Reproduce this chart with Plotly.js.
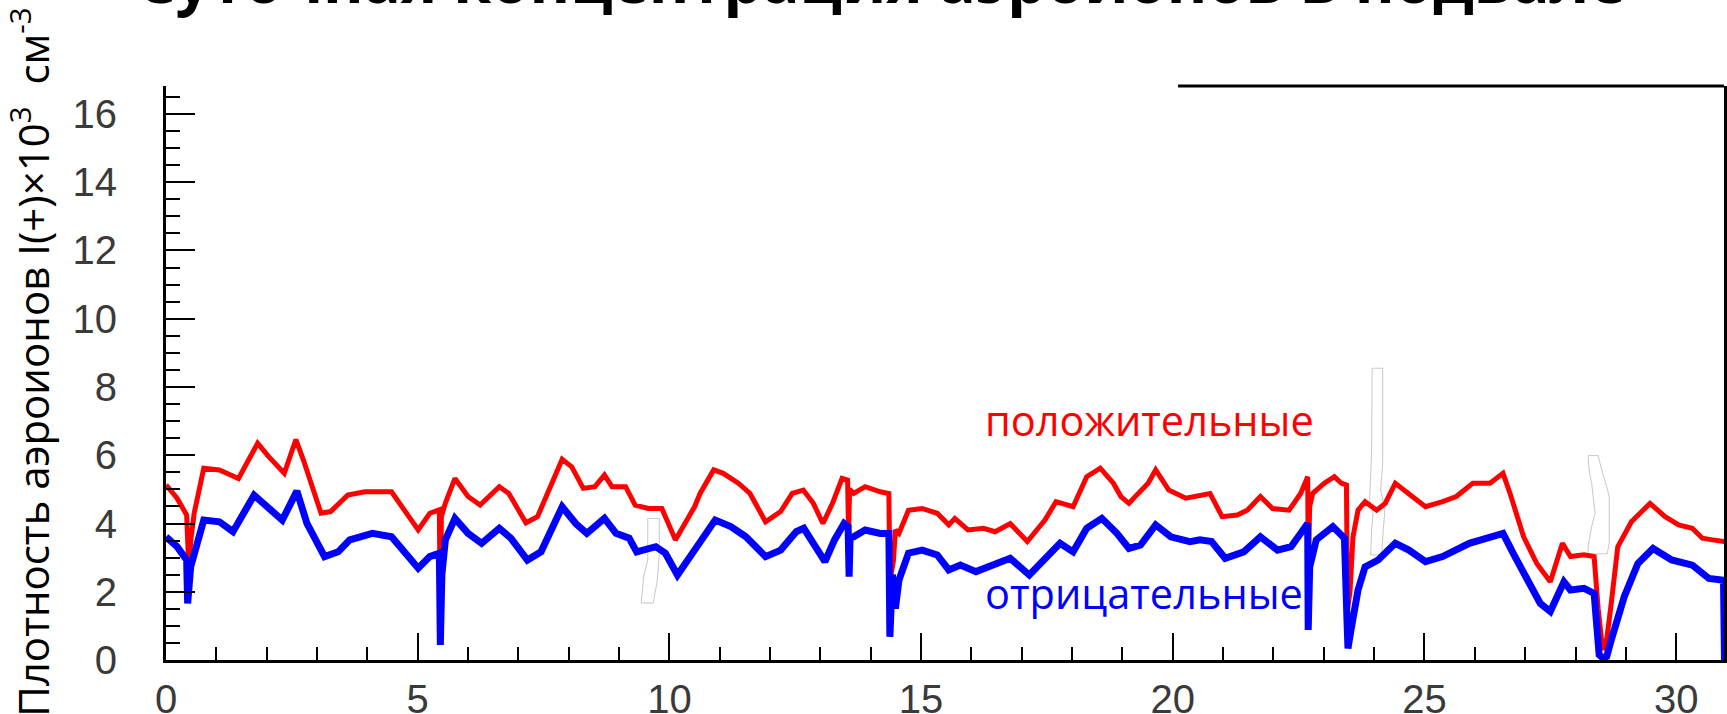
<!DOCTYPE html>
<html>
<head>
<meta charset="utf-8">
<script src="https://cdn.plot.ly/plotly-3.0.1.min.js"></script>
<style>
  html, body { margin: 0; padding: 0; background: #ffffff; overflow: hidden; }
  #chart { width: 1727px; height: 714px; }
</style>
</head>
<body>
<div id="chart"></div>
<script>
// ---------------- data ----------------
const chartTitle = 'Суточная концентрация аэроионов в подвале';
const yAxisTitle = '&nbsp;&nbsp;Плотность аэроионов I(+)×10<sup>3</sup>  см<sup>-3</sup>';
const seriesNames = ['положительные', 'отрицательные'];

// time, hours
const posX = [0, 0.22, 0.41, 0.45, 0.5, 0.56, 0.75, 1.06, 1.44, 1.82, 2.04, 2.31, 2.35, 2.58, 2.73, 3.08, 3.27, 3.61, 3.95, 4.48,
  5.01, 5.24, 5.43, 5.45, 5.47, 5.55, 5.74, 6.0, 6.24, 6.62, 6.81, 7.15, 7.38, 7.87, 8.06, 8.29, 8.52, 8.71, 8.86, 9.13,
  9.32, 9.58, 9.85, 10.12, 10.5, 10.61, 10.88, 11.07, 11.37, 11.6, 11.91, 12.21, 12.44, 12.66, 12.86, 13.05, 13.24, 13.43, 13.54, 13.56,
  13.58, 13.66, 13.89, 14.19, 14.36, 14.38, 14.45, 14.49, 14.56, 14.75, 15.02, 15.32, 15.55, 15.67, 15.93, 16.24, 16.47, 16.77, 17.11, 17.46,
  17.68, 18.02, 18.29, 18.56, 18.82, 18.97, 19.13, 19.28, 19.51, 19.66, 19.92, 20.26, 20.54, 20.74, 20.98, 21.28, 21.48, 21.74, 21.98, 22.31,
  22.54, 22.68, 22.69, 22.72, 22.78, 23.01, 23.21, 23.35, 23.45, 23.47, 23.52, 23.58, 23.68, 23.82, 24.05, 24.22, 24.42, 24.69, 25.02, 25.36,
  25.63, 25.96, 26.3, 26.56, 26.7, 26.97, 27.23, 27.5, 27.74, 27.9, 28.17, 28.37, 28.45, 28.54, 28.62, 28.71, 28.84, 29.11, 29.48, 29.78,
  30.05, 30.32, 30.52, 30.72, 30.96];
// positive ions, x10^3 cm^-3
const posY = [5.13, 4.74, 4.25, 2.78, 3.6, 4.3, 5.62, 5.57, 5.32, 6.35, 5.96, 5.57, 5.47, 6.46, 5.86, 4.3, 4.35, 4.83, 4.93, 4.93,
  3.81, 4.3, 4.4, 1.0, 4.2, 4.6, 5.32, 4.79, 4.54, 5.08, 4.88, 4.02, 4.2, 5.88, 5.66, 5.03, 5.08, 5.42, 5.08, 5.08,
  4.54, 4.44, 4.44, 3.52, 4.49, 4.88, 5.57, 5.47, 5.18, 4.88, 4.05, 4.35, 4.88, 4.98, 4.59, 4.0, 4.59, 5.32, 5.27, 3.7,
  5.0, 4.88, 5.08, 4.93, 4.88, 2.3, 2.9, 3.81, 3.71, 4.39, 4.44, 4.3, 3.96, 4.15, 3.81, 3.86, 3.76, 4.0, 3.47, 4.1,
  4.64, 4.49, 5.37, 5.62, 5.18, 4.79, 4.59, 4.83, 5.18, 5.57, 4.98, 4.74, 4.83, 4.88, 4.2, 4.25, 4.39, 4.79, 4.44, 4.39,
  4.88, 5.37, 2.83, 4.5, 4.88, 5.18, 5.37, 5.18, 5.13, 1.46, 2.0, 3.61, 4.39, 4.64, 4.39, 4.59, 5.18, 4.88, 4.49, 4.64,
  4.79, 5.18, 5.18, 5.47, 4.88, 3.61, 2.83, 2.29, 3.42, 3.03, 3.08, 3.03, 1.5, 0.3, 0.6, 1.66, 3.32, 4.05, 4.59, 4.2,
  3.96, 3.86, 3.57, 3.52, 3.47];

const negX = [0, 0.22, 0.41, 0.43, 0.49, 0.75, 1.06, 1.33, 1.75, 2.04, 2.31, 2.6, 2.8, 3.15, 3.42, 3.65, 4.1, 4.48, 5.01, 5.24,
  5.43, 5.45, 5.48, 5.55, 5.74, 6.0, 6.27, 6.62, 6.85, 7.18, 7.45, 7.87, 8.14, 8.36, 8.71, 8.94, 9.2, 9.35, 9.73, 9.92,
  10.16, 10.5, 10.91, 11.22, 11.52, 11.91, 12.21, 12.52, 12.67, 12.86, 13.09, 13.28, 13.47, 13.55, 13.57, 13.59, 13.66, 13.89, 14.19, 14.36,
  14.38, 14.43, 14.49, 14.56, 14.75, 15.02, 15.32, 15.55, 15.78, 16.09, 16.39, 16.77, 17.15, 17.46, 17.76, 18.02, 18.29, 18.59, 18.89, 19.13,
  19.36, 19.66, 19.96, 20.34, 20.54, 20.77, 21.04, 21.41, 21.74, 22.08, 22.35, 22.68, 22.69, 22.72, 22.85, 23.18, 23.41, 23.46, 23.48, 23.54,
  23.68, 23.82, 24.08, 24.42, 24.69, 25.02, 25.36, 25.89, 26.3, 26.56, 26.76, 27.03, 27.3, 27.5, 27.77, 27.9, 28.17, 28.37, 28.47, 28.55,
  28.62, 28.71, 28.97, 29.24, 29.54, 29.91, 30.32, 30.65, 30.94, 30.96];
// negative ions, x10^3 cm^-3
const negY = [3.61, 3.32, 2.93, 1.66, 2.73, 4.1, 4.05, 3.76, 4.83, 4.44, 4.1, 4.95, 4.0, 3.03, 3.17, 3.52, 3.71, 3.61, 2.69, 3.03,
  3.13, 0.44, 2.5, 3.52, 4.15, 3.71, 3.42, 3.86, 3.57, 2.93, 3.17, 4.49, 4.0, 3.71, 4.15, 3.71, 3.57, 3.17, 3.32, 3.13,
  2.49, 3.22, 4.1, 3.91, 3.61, 3.03, 3.22, 3.76, 3.86, 3.42, 2.88, 3.52, 4.0, 3.91, 2.44, 3.6, 3.61, 3.81, 3.71, 3.71,
  0.68, 2.5, 1.51, 2.34, 3.13, 3.22, 3.08, 2.64, 2.78, 2.59, 2.78, 2.98, 2.49, 2.93, 3.42, 3.17, 3.86, 4.15, 3.71, 3.27,
  3.37, 3.96, 3.61, 3.47, 3.52, 3.47, 2.98, 3.17, 3.61, 3.22, 3.32, 4.0, 0.88, 2.73, 3.52, 3.91, 3.57, 1.2, 0.34, 0.88,
  2.05, 2.73, 2.93, 3.42, 3.22, 2.88, 3.03, 3.42, 3.57, 3.71, 3.13, 2.34, 1.66, 1.42, 2.29, 2.05, 2.1, 1.95, 0.15, 0.05,
  0.1, 0.59, 1.86, 2.83, 3.27, 2.93, 2.78, 2.39, 2.34, 0];

// ---------------- chart ----------------
const tickFont = { family: 'Liberation Sans, Arial, sans-serif', size: 40, color: '#3a3a3a' };
const textFamily = 'Open Sans, Noto Sans, sans-serif';

const traces = [
  { x: posX, y: posY, name: seriesNames[0], type: 'scatter', mode: 'lines',
    line: { color: '#ff0000', width: 5 }, hoverinfo: 'skip' },
  { x: negX, y: negY, name: seriesNames[1], type: 'scatter', mode: 'lines',
    line: { color: '#0000ff', width: 7 }, hoverinfo: 'skip' }
];

const W = 1727, H = 714;
const M = { l: 166, r: 3, t: 86, b: 54 };

const layout = {
  width: W, height: H,
  margin: M,
  paper_bgcolor: '#ffffff', plot_bgcolor: '#ffffff',
  showlegend: false,
  title: {
    text: '<b>' + chartTitle + '</b>',
    xref: 'container', x: 881 / W, xanchor: 'center',
    yref: 'container', y: 1 - 3 / H, yanchor: 'bottom',
    pad: { t: 0, b: 0, l: 0, r: 0 },
    font: { family: textFamily, size: 61.5, color: '#000000' }
  },
  xaxis: {
    range: [0, 30.95], showgrid: false, zeroline: false,
    showline: true, linecolor: '#000000', linewidth: 3,
    ticks: 'inside', ticklen: 27, tickwidth: 2, tickcolor: '#000000',
    tickmode: 'linear', tick0: 0, dtick: 5,
    minor: { ticks: 'inside', dtick: 1, ticklen: 13, tickwidth: 2, tickcolor: '#000000' },
    tickfont: tickFont, ticklabelstandoff: 2, fixedrange: true
  },
  yaxis: {
    range: [0, 16.82], showgrid: false, zeroline: false,
    showline: true, linecolor: '#000000', linewidth: 3, mirror: true,
    ticks: 'inside', ticklen: 29, tickwidth: 2, tickcolor: '#000000',
    tickmode: 'linear', tick0: 0, dtick: 2,
    minor: { ticks: 'inside', dtick: 0.5, ticklen: 14, tickwidth: 2, tickcolor: '#000000' },
    tickfont: tickFont, ticklabelstandoff: 38,
    title: { text: yAxisTitle, standoff: 20, font: { family: textFamily, size: 42, color: '#000000' } },
    fixedrange: true
  },
  shapes: [
    { type: 'line', xref: 'paper', yref: 'paper', x0: 0.6496, x1: 1, y0: 1, y1: 1,
      line: { color: '#000000', width: 3 } },
    { type: 'path', xref: 'x', yref: 'y', layer: 'below', fillcolor: '#ffffff',
      line: { color: '#c8c8c8', width: 1 },
      path: 'M9.57,4.15 L9.80,4.15 L9.80,3.13 L9.76,2.34 L9.68,1.67 L9.44,1.67 L9.49,2.44 L9.57,2.93 Z' },
    { type: 'path', xref: 'x', yref: 'y', layer: 'below', fillcolor: '#ffffff',
      line: { color: '#c8c8c8', width: 1 },
      path: 'M23.96,8.55 L24.17,8.55 L24.17,5.76 L24.13,4.98 L24.18,4.64 L24.21,4.30 L24.18,3.81 L24.15,3.08 L23.93,3.08 L23.95,3.81 L23.98,4.30 L23.91,4.69 L23.95,6.06 Z' },
    { type: 'path', xref: 'x', yref: 'y', layer: 'below', fillcolor: '#ffffff',
      line: { color: '#c8c8c8', width: 1 },
      path: 'M28.25,5.99 L28.45,5.99 L28.52,5.57 L28.62,5.08 L28.67,4.79 L28.67,3.42 L28.63,3.11 L28.25,3.11 L28.25,3.32 L28.32,3.91 L28.39,4.30 L28.32,5.18 L28.27,5.57 Z' }
  ],
  annotations: [
    { text: seriesNames[0], xref: 'x', yref: 'y', x: 16.23, y: 7.03,
      xanchor: 'left', yanchor: 'middle', showarrow: false,
      font: { family: textFamily, size: 41.5, color: '#ff0000' } },
    { text: seriesNames[1], xref: 'x', yref: 'y', x: 16.23, y: 1.96,
      xanchor: 'left', yanchor: 'middle', showarrow: false,
      font: { family: textFamily, size: 41.5, color: '#0000ff' } }
  ]
};

Plotly.newPlot('chart', traces, layout, { displayModeBar: false, staticPlot: true });
</script>
</body>
</html>
